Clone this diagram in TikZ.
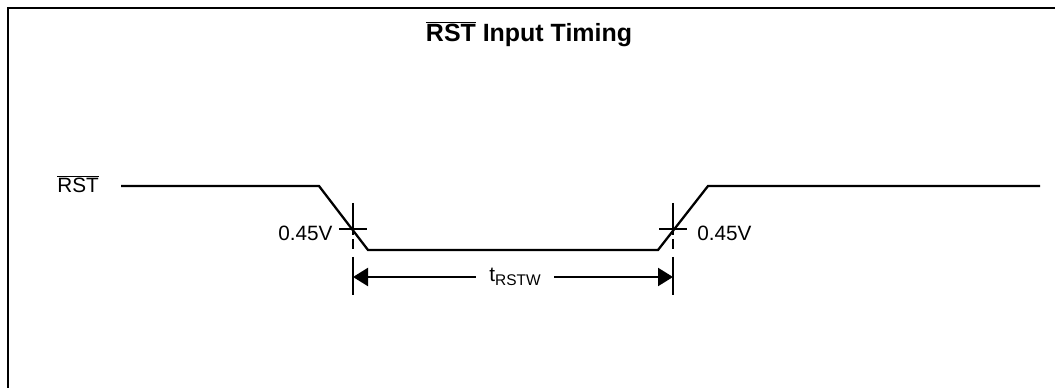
\documentclass[tikz,border=0pt]{standalone}
\usepackage{fontspec}
\setmainfont{Liberation Sans}
\usetikzlibrary{arrows.meta}
\newcommand{\ovl}[1]{$\overline{\mbox{#1}}$}
\begin{document}
\begin{tikzpicture}[x=0.02cm, y=-0.02cm,
    signal/.style={line width=1.3pt},
    mark line/.style={line width=1.2pt},
    dimline/.style={line width=1.3pt, -{Triangle[length=0.3cm, width=0.36cm]}},
    lbl/.style={font=\fontsize{11.8}{13}\selectfont, inner sep=0pt, anchor=base west}]
    \useasboundingbox (0,0) rectangle (1055,388);
    %   Frame and title
    \draw[line width=1.6pt] (8,388) -- (8,8) -- (1055,8);
    \node[font=\bfseries\fontsize{14.2}{16}\selectfont, inner sep=0pt, anchor=base] (title) at (529,42) {\ovl{RST} Input Timing};
    %   RST waveform
    \node[lbl] (rst) at (57,193) {\ovl{RST}};
    \coordinate (h1) at (121,186);
    \coordinate (h2) at (319,186);
    \coordinate (l1) at (368,250);
    \coordinate (l2) at (658,250);
    \coordinate (h3) at (708,186);
    \coordinate (h4) at (1040,186);
    \draw[signal] (h1) -- (h2) -- (l1) -- (l2) -- (h3) -- (h4);
    %   0.45V crossing marks
    \coordinate (ca) at (353,229);
    \coordinate (cb) at (673,229);
    \foreach \c in {ca,cb} {
        \draw[mark line] (\c) ++(0,-26) -- ++(0,32);
        \draw[mark line] (\c) ++(0,10) -- ++(0,10);
        \draw[mark line] (\c) ++(0,28) -- ++(0,38);
        \draw[mark line] (\c) ++(-14,0) -- ++(28,0);
    }
    \node[lbl] (va) at (278,241) {0.45V};
    \node[lbl] (vb) at (697,241) {0.45V};
    %   Reset pulse width
    \coordinate (da) at (353,277);
    \coordinate (db) at (673,277);
    \node[font=\fontsize{11.8}{13}\selectfont, inner ysep=0pt, inner xsep=0.27cm] (trstw) at (515,277)
        {t{\fontsize{8.8}{10}\selectfont\raisebox{-2.3pt}{RSTW}}};
    \draw[dimline] (trstw.west) -- (da);
    \draw[dimline] (trstw.east) -- (db);
\end{tikzpicture}
\end{document}
